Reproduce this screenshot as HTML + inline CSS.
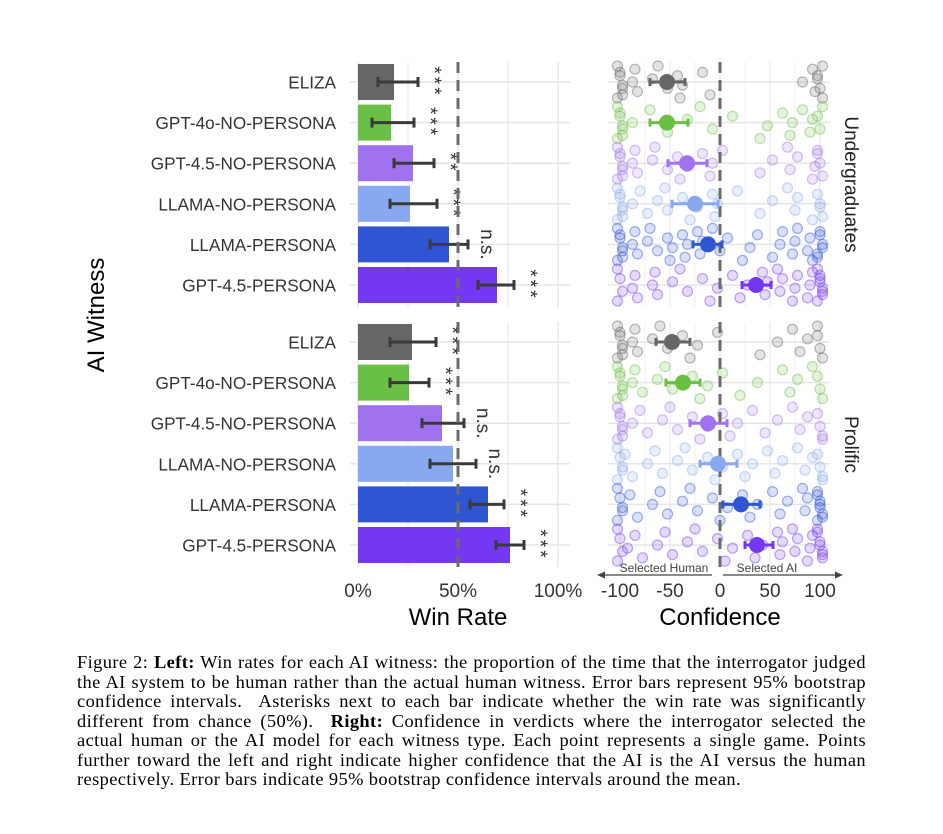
<!DOCTYPE html>
<html><head><meta charset="utf-8">
<style>
body{margin:0;background:#fff;width:943px;height:834px;overflow:hidden;position:relative;font-family:"Liberation Sans",sans-serif}
.cap{position:absolute;left:77px;width:789px;font-family:"Liberation Serif",serif;font-size:18.4px;letter-spacing:0.4px;color:#000;line-height:19.5px}
.cap div{text-align:justify;text-align-last:justify;white-space:nowrap}
.cap div.last{text-align-last:left}
</style></head><body>
<svg id="chart" width="943" height="640" style="position:absolute;left:0;top:0" font-family="Liberation Sans, sans-serif"></svg>
<div class="cap" style="top:653px">
<div>Figure 2: <b>Left:</b> Win rates for each AI witness: the proportion of the time that the interrogator judged</div>
<div>the AI system to be human rather than the actual human witness. Error bars represent 95% bootstrap</div>
<div>confidence intervals.&nbsp; Asterisks next to each bar indicate whether the win rate was significantly</div>
<div>different from chance (50%). &nbsp;<b>Right:</b> Confidence in verdicts where the interrogator selected the</div>
<div>actual human or the AI model for each witness type. Each point represents a single game. Points</div>
<div>further toward the left and right indicate higher confidence that the AI is the AI versus the human</div>
<div class="last">respectively. Error bars indicate 95% bootstrap confidence intervals around the mean.</div>
</div>
<script>
const categories=["ELIZA","GPT-4o-NO-PERSONA","GPT-4.5-NO-PERSONA","LLAMA-NO-PERSONA","LLAMA-PERSONA","GPT-4.5-PERSONA"];
const colors=["#666666","#6abf45","#a072ef","#88a8f0","#2f55d2","#7438f2"];
const groups=["Undergraduates","Prolific"];
const winRate=[[18,16.5,27.5,26,45.5,69.5],[27,25.5,42,47.5,65,76]];
const winLo=[[10,7,18,16,36,60],[16,16,32,36,56,69]];
const winHi=[[30,28,38,39.5,55,78],[39,35.5,53,59,73,83]];
const sig=[["***","***","**","***","n.s.","***"],["***","***","n.s.","n.s.","***","***"]];
const confMean=[[-53,-53,-33,-25,-12,36],[-48,-37,-12,-2,21,37]];
const confLo=[[-70,-70,-52,-48,-27,22],[-64,-54,-30,-20,3,25]];
const confHi=[[-35,-32,-13,-2,2,51],[-30,-20,7,17,40,53]];
const winTicks=["0%","50%","100%"];
const confTicks=[-100,-50,0,50,100];
const points=[
[[-100,-100,-100,-100,-100,-100,-95,-90,-85,-80,-70,-62,-50,-45,-40,-35,-20,-10,85,90,95,100,100,100,100,100],
 [-100,-100,-100,-100,-100,-100,-95,-90,-70,-50,-35,-20,-5,10,40,50,60,70,75,80,90,95,100,100,100],
 [-100,-100,-100,-100,-100,-100,-95,-90,-85,-80,-70,-65,-50,-45,-40,-30,-20,-10,-5,0,40,55,65,70,80,90,95,100,100,100,100],
 [-100,-100,-100,-100,-100,-100,-95,-90,-80,-70,-65,-55,-50,-40,-30,-20,-10,-5,0,15,40,55,65,75,80,90,100,100,100,100],
 [-100,-100,-100,-100,-100,-100,-95,-90,-85,-80,-75,-70,-60,-55,-50,-45,-40,-35,-30,-25,-20,-15,-10,0,10,20,30,40,50,60,65,70,75,80,85,90,95,100,100,100,100,100,100],
 [-100,-100,-100,-100,-90,-85,-80,-70,-65,-60,-50,-40,-30,-20,-10,0,10,20,30,40,45,50,55,60,65,70,75,80,85,90,95,100,100,100,100,100,100,100,100]],
[[-100,-100,-100,-100,-100,-100,-95,-90,-85,-80,-70,-60,-50,-40,-30,-20,-5,40,60,70,80,90,95,100,100,100],
 [-100,-100,-100,-100,-100,-100,-95,-90,-85,-75,-65,-55,-45,-30,-20,-10,0,20,40,60,70,80,90,100,100,100],
 [-100,-100,-100,-100,-100,-100,-95,-90,-80,-70,-60,-50,-40,-30,-20,-10,0,10,20,30,45,60,70,80,90,100,100,100,100],
 [-100,-100,-100,-100,-100,-95,-85,-75,-65,-55,-45,-35,-25,-15,-5,5,15,25,35,45,55,65,75,85,95,100,100,100,100],
 [-100,-100,-100,-100,-100,-90,-80,-70,-60,-50,-40,-30,-20,-10,0,10,20,30,40,50,60,70,80,85,90,95,100,100,100,100,100,100,100],
 [-100,-100,-100,-100,-95,-85,-75,-65,-55,-45,-35,-25,-15,-5,5,15,25,35,45,55,60,65,70,75,80,85,90,95,100,100,100,100,100,100,100]]];
const NS="http://www.w3.org/2000/svg";
const svg=document.getElementById('chart');
function mk(t,a,p){const e=document.createElementNS(NS,t);for(const k in a)e.setAttribute(k,a[k]);(p||svg).appendChild(e);return e;}
const panelTop=[62,322],panelH=245;
const xW=v=>358+v*2, xC=v=>720+v*1.0;
const rowY=(g,i)=>panelTop[g]+20+i*40.6;
for(let g=0;g<2;g++){
  const t=panelTop[g];
  for(const v of [0,25,50,75,100]) mk('line',{x1:xW(v),x2:xW(v),y1:t,y2:t+panelH,stroke:'#e6e6e6','stroke-width':v%50?1:1.5});
  for(const v of [-100,-50,0,50,100,-75,-25,25,75]) mk('line',{x1:xC(v),x2:xC(v),y1:t,y2:t+panelH,stroke:'#ececec','stroke-width':v%50?0.8:1.4});
  for(let i=0;i<6;i++){const y=rowY(g,i);
    mk('line',{x1:350,x2:570,y1:y,y2:y,stroke:'#e6e6e6','stroke-width':1.5});
    mk('line',{x1:608,x2:830,y1:y,y2:y,stroke:'#e6e6e6','stroke-width':1.5});}
  const gl=mk('text',{x:0,y:0,'font-size':19,fill:'#222','text-anchor':'middle',transform:`translate(845,${t+panelH/2}) rotate(90)`});
  gl.textContent=groups[g];
  
  
}
for(let g=0;g<2;g++){
  for(let i=0;i<6;i++){
    const y=rowY(g,i);
    const lab=mk('text',{x:336,y:y+6.5,'font-size':17.2,fill:'#333','text-anchor':'end'});
    lab.textContent=categories[i];
    
    
    const b=mk('rect',{x:xW(0),y:y-18,width:xW(winRate[g][i])-xW(0),height:36,fill:colors[i]});
    
    
    const lo=xW(winLo[g][i]),hi=xW(winHi[g][i]);
    mk('line',{x1:lo,x2:hi,y1:y,y2:y,stroke:'#3a3a3a','stroke-width':3});
    mk('line',{x1:lo,x2:lo,y1:y-5,y2:y+5,stroke:'#3a3a3a','stroke-width':3});
    mk('line',{x1:hi,x2:hi,y1:y-5,y2:y+5,stroke:'#3a3a3a','stroke-width':3});
    const ns=sig[g][i]=='n.s.';
    const s=mk('text',{x:0,y:0,'font-size':19,fill:'#333','text-anchor':'middle',transform:`translate(${hi+(ns?13:10)},${y}) rotate(90)`,'letter-spacing':ns?0:3});
    s.textContent=sig[g][i];
    
    
    const pts=points[g][i];
    pts.forEach((v,k)=>{
      const jy=((k*7)%11-5)*3.2;
      const c=mk('circle',{cx:xC(v)+((k*5)%3-1)*2.5,cy:y+jy,r:5,fill:colors[i],'fill-opacity':0.18,stroke:colors[i],'stroke-opacity':0.45,'stroke-width':1.2});
      
      
    });
  }
  mk('line',{x1:xW(50),x2:xW(50),y1:panelTop[g],y2:panelTop[g]+panelH,stroke:'#6b6b6b','stroke-width':3,'stroke-dasharray':'11,7'});
  mk('line',{x1:xC(0),x2:xC(0),y1:panelTop[g],y2:panelTop[g]+panelH,stroke:'#6b6b6b','stroke-width':3,'stroke-dasharray':'11,7'});
  for(let i=0;i<6;i++){
    const y=rowY(g,i),lo=xC(confLo[g][i]),hi=xC(confHi[g][i]);
    mk('line',{x1:lo,x2:hi,y1:y,y2:y,stroke:colors[i],'stroke-width':3});
    mk('line',{x1:lo,x2:lo,y1:y-4,y2:y+4,stroke:colors[i],'stroke-width':3});
    mk('line',{x1:hi,x2:hi,y1:y-4,y2:y+4,stroke:colors[i],'stroke-width':3});
    const m=mk('circle',{cx:xC(confMean[g][i]),cy:y,r:8,fill:colors[i]});
    
    
  }
}
[0,50,100].forEach((v,k)=>{const t=mk('text',{x:xW(v),y:597,'font-size':19,fill:'#333','text-anchor':'middle'});t.textContent=winTicks[k];
  });
confTicks.forEach(v=>{const t=mk('text',{x:xC(v),y:597,'font-size':19,fill:'#333','text-anchor':'middle'});t.textContent=v;
  });
mk('line',{x1:600,x2:712,y1:575,y2:575,stroke:'#444','stroke-width':1.2});
mk('polygon',{points:'597,575 605,571.5 605,578.5',fill:'#444'});
mk('line',{x1:723,x2:838,y1:575,y2:575,stroke:'#444','stroke-width':1.2});
mk('polygon',{points:'843,575 835,571.5 835,578.5',fill:'#444'});
let a=mk('text',{x:664,y:572,'font-size':12,fill:'#444','text-anchor':'middle'});a.textContent='Selected Human';
let b2=mk('text',{x:767,y:572,'font-size':12,fill:'#444','text-anchor':'middle'});b2.textContent='Selected AI';
let t1=mk('text',{x:458,y:625,'font-size':24,fill:'#000','text-anchor':'middle'});t1.textContent='Win Rate';

let t2=mk('text',{x:720,y:625,'font-size':24,fill:'#000','text-anchor':'middle'});t2.textContent='Confidence';

let t3=mk('text',{x:0,y:0,'font-size':24,fill:'#000','text-anchor':'middle',transform:'translate(104,315) rotate(-90)'});t3.textContent='AI Witness';

</script>
</body></html>
